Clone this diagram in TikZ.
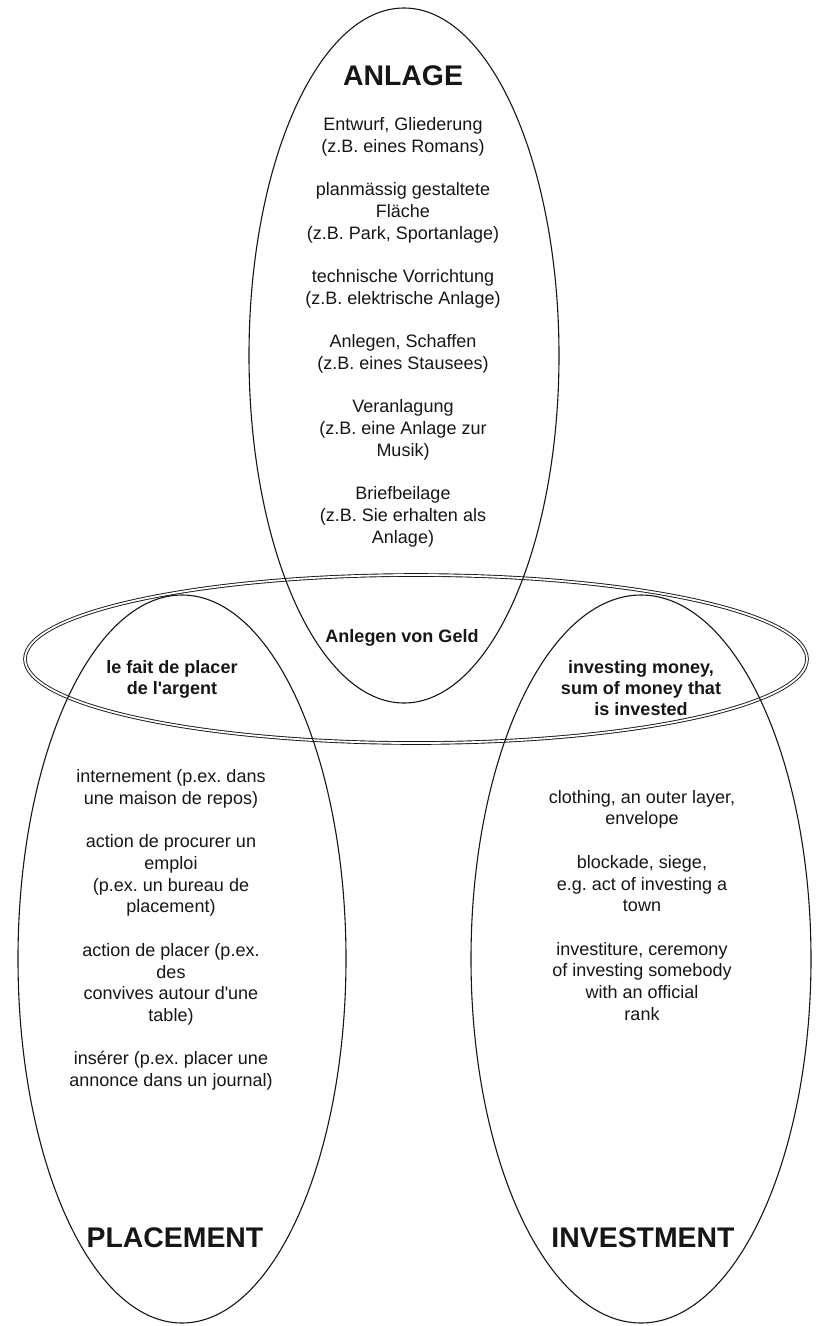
\documentclass[tikz,border=0pt]{standalone}
\usepackage{fontspec}
\setmainfont{Liberation Sans}
\usetikzlibrary{positioning}
\definecolor{vennink}{HTML}{161616}
\tikzset{
  vennline/.style={draw=vennink, line width=1.1pt},
  moneyring/.style={draw=vennink, line width=0.9pt, double=white,
    double distance=1.8pt},
  bodytext/.style={font=\fontsize{18}{21.7}\selectfont, text=vennink,
    align=center, inner sep=0pt, anchor=north},
  boldtext/.style={bodytext, font=\fontsize{18}{21}\selectfont\bfseries},
  titletext/.style={font=\fontsize{28.4}{34}\selectfont\bfseries,
    text=vennink, inner sep=0pt, anchor=base}
}
\newcommand{\gapline}{\\[21.7pt]}

\begin{document}
\frenchspacing
\begin{tikzpicture}[x=1pt,y=1pt]
  \useasboundingbox (0,0) rectangle (819,-1326);

  % the money ring first, the three words on top
  \draw[moneyring] (416,-659) ellipse [x radius=391pt, y radius=84pt];
  \draw[vennline] (404,-355.5) ellipse [x radius=155pt, y radius=347.5pt];
  \draw[vennline] (182,-959) ellipse [x radius=164pt, y radius=364pt];
  \draw[vennline] (641,-959) ellipse [x radius=170pt, y radius=364pt];

  \node[titletext] (anlage) at (403,-85) {ANLAGE};
  \node[titletext] (placement) at (175,-1247) {PLACEMENT};
  \node[titletext] (investment) at (643,-1247) {INVESTMENT};

  \node[bodytext] (anlagebody) at (403,-117.5)
    {Entwurf, Gliederung\\(z.B. eines Romans)\gapline
     planmässig gestaltete\\Fläche\\(z.B. Park, Sportanlage)\gapline
     technische Vorrichtung\\(z.B. elektrische Anlage)\gapline
     Anlegen, Schaffen\\(z.B. eines Stausees)\gapline
     Veranlagung\\(z.B. eine Anlage zur\\Musik)\gapline
     Briefbeilage\\(z.B. Sie erhalten als\\Anlage)};

  \node[boldtext, anchor=base] (geld) at (402,-642.5) {Anlegen von Geld};
  \node[boldtext] (placer) at (172,-660.5)
    {le fait de placer\\de l\textquotesingle argent};
  \node[boldtext] (investing) at (641,-660.5)
    {investing money,\\sum of money that\\is invested};

  \node[bodytext] (placementbody) at (171,-769.5)
    {internement (p.ex. dans\\une maison de repos)\gapline
     action de procurer un\\emploi\\(p.ex. un bureau de\\placement)\gapline
     action de placer (p.ex.\\des\\convives autour d\textquotesingle une\\table)\gapline
     insérer (p.ex. placer une\\annonce dans un journal)};

  \node[bodytext] (investmentbody) at (642,-790)
    {clothing, an outer layer,\\envelope\gapline
     blockade, siege,\\e.g. act of investing a\\town\gapline
     investiture, ceremony\\of investing somebody\\with an official\\rank};
\end{tikzpicture}
\end{document}
